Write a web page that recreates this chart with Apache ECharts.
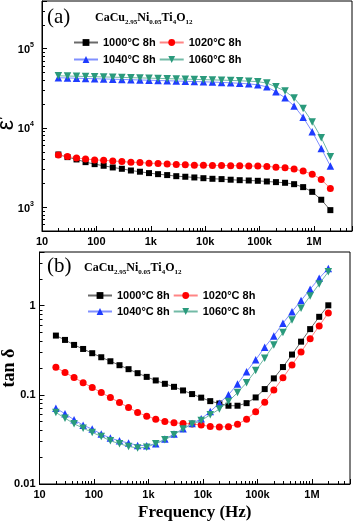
<!DOCTYPE html>
<html>
<head>
<meta charset="utf-8">
<script src="https://cdn.jsdelivr.net/npm/echarts@6.0.0/dist/echarts.min.js"></script>
<style>
html,body{margin:0;padding:0;background:#fff;}
#chart{width:354px;height:523px;}
</style>
</head>
<body>
<div id="chart"></div>
<script>
// measuring frequencies (Hz), same for both panels
var freq = [20, 29.4, 43.1, 63.2, 92.8, 136, 200, 294, 431, 632, 928, 1360, 2000, 2940, 4310, 6320, 9280,
	13600, 20000, 29400, 43100, 63200, 92800, 136000, 200000, 294000, 431000, 632000, 928000, 1360000, 2000000];
var names = ['1000°C 8h', '1020°C 8h', '1040°C 8h', '1060°C 8h'];

// (a) dielectric constant
var eps1000 = [4620, 4280, 4000, 3700, 3490, 3330, 3170, 3050, 2900, 2800, 2690, 2610, 2540, 2460, 2420, 2370,
	2320, 2280, 2260, 2220, 2190, 2170, 2150, 2110, 2070, 2030, 1950, 1790, 1560, 1240, 917];
var eps1020 = [4540, 4350, 4180, 4060, 3950, 3900, 3830, 3760, 3690, 3660, 3590, 3560, 3500, 3460, 3430, 3390,
	3390, 3360, 3360, 3340, 3340, 3300, 3300, 3270, 3200, 3140, 3020, 2850, 2610, 2240, 1720];
var eps1040 = [43000, 42700, 42400, 42100, 41800, 41500, 41200, 40900, 40600, 40300, 40000, 39700, 39400, 39100,
	38800, 38500, 38200, 37900, 37500, 37100, 36600, 36000, 35000, 33000, 28600, 24000, 18900, 13600, 8960, 5510, 3300];
var eps1060 = [45500, 45200, 44900, 44600, 44300, 44000, 43700, 43400, 43100, 42800, 42500, 42200, 41900, 41600,
	41300, 41000, 40700, 40400, 40100, 39800, 39400, 38900, 38400, 36800, 33000, 29200, 23800, 17600, 11900, 7520, 4330];

// (b) loss tangent
var tan1000 = [0.462, 0.413, 0.363, 0.327, 0.293, 0.264, 0.238, 0.215, 0.194, 0.175, 0.159, 0.145, 0.133, 0.123,
	0.112, 0.102, 0.093, 0.085, 0.080, 0.0755, 0.0755, 0.0807, 0.0935, 0.116, 0.153, 0.205, 0.283, 0.395, 0.546, 0.750, 1.01];
var tan1020 = [0.204, 0.178, 0.156, 0.137, 0.121, 0.106, 0.0933, 0.082, 0.0722, 0.0634, 0.0577, 0.0534, 0.0503,
	0.0486, 0.0478, 0.047, 0.046, 0.0442, 0.0435, 0.044, 0.0469, 0.0534, 0.0645, 0.0825, 0.113, 0.155, 0.216, 0.302, 0.427, 0.592, 0.83];
var tan1040 = [0.0709, 0.0613, 0.0525, 0.0457, 0.0413, 0.0363, 0.0327, 0.0305, 0.0288, 0.0271, 0.0269, 0.0283,
	0.0319, 0.0363, 0.0416, 0.0478, 0.0538, 0.065, 0.0807, 0.1, 0.132, 0.182, 0.247, 0.342, 0.458, 0.635, 0.857, 1.14, 1.53, 2.03, 2.62];
var tan1060 = [0.0634, 0.0548, 0.0473, 0.0423, 0.0379, 0.0342, 0.0305, 0.0283, 0.0264, 0.0253, 0.0259, 0.0283,
	0.0313, 0.0357, 0.0413, 0.047, 0.0515, 0.0597, 0.0692, 0.0842, 0.106, 0.137, 0.187, 0.258, 0.363, 0.499, 0.692, 0.935, 1.28, 1.75, 2.40];

// tick labels
var xTickVals = [10, 100, 1000, 10000, 100000, 1000000];
var xTickText = ['10', '100', '1k', '10k', '100k', '1M'];
var yTickExpA = [3, 4, 5];
var yTickValsB = [0.01, 0.1, 1];
var yTickTextB = ['0.01', '0.1', '1'];

var SANS = 'Liberation Sans';
var SERIF = 'Liberation Serif';

var markColor = ['#000000', '#ff0000', '#1f3cff', '#2a9a7c'];
var lineColor = ['#6a6a6a', '#ff8585', '#8090ff', '#72baa6'];
var symbols = ['rect', 'circle', 'triangle', 'triangle'];
var symRot = [0, 0, 0, 180];
var symSize = [6, 7, 7.5, 7.5];

function isDecade(v) {
	var l = Math.log(v) / Math.LN10;
	return Math.abs(l - Math.round(l)) < 1e-6;
}

function xLabel(v) {
	for (var i = 0; i < xTickVals.length; i++) {
		if (Math.abs(v - xTickVals[i]) < 1e-6 * xTickVals[i]) return xTickText[i];
	}
	return '';
}

function yLabelA(v) {
	if (!isDecade(v)) return '';
	var e = Math.round(Math.log(v) / Math.LN10);
	if (yTickExpA.indexOf(e) < 0) return '';
	return '{b|10}{p|' + e + '}';
}

function yLabelB(v) {
	for (var i = 0; i < yTickValsB.length; i++) {
		if (Math.abs(v - yTickValsB[i]) < 1e-6 * yTickValsB[i]) return yTickTextB[i];
	}
	return '';
}

function xAxisCfg(gi, name) {
	return {
		type: 'log', logBase: 10, gridIndex: gi, min: 10, max: 5e6,
		axisLine: {show: true, lineStyle: {color: '#000', width: 1}},
		axisTick: {show: true, inside: true, length: 5, lineStyle: {color: '#000', width: 1}},
		minorTick: {show: true, splitNumber: 9, length: 3, lineStyle: {color: '#000', width: 1}},
		splitLine: {show: false},
		minorSplitLine: {show: false},
		axisLabel: {margin: 5, color: '#000', fontFamily: SANS, fontWeight: 'bold', fontSize: 11, formatter: xLabel},
		name: name, nameLocation: 'middle', nameGap: 20, nameMoveOverlap: false,
		nameTextStyle: {fontFamily: SERIF, fontWeight: 'bold', fontSize: 17, color: '#000'}
	};
}

function yAxisCfg(gi, min, max, fmt, name, nameStyle, gap, margin) {
	return {
		type: 'log', logBase: 10, gridIndex: gi, min: min, max: max,
		axisLine: {show: true, lineStyle: {color: '#000', width: 1}},
		axisTick: {show: true, inside: true, length: 5, lineStyle: {color: '#000', width: 1}},
		minorTick: {show: true, splitNumber: 9, length: 3, lineStyle: {color: '#000', width: 1}},
		splitLine: {show: false},
		minorSplitLine: {show: false},
		axisLabel: {
			margin: margin, color: '#000', fontFamily: SANS, fontWeight: 'bold', fontSize: 11, formatter: fmt,
			rich: {
				b: {fontFamily: SANS, fontWeight: 'bold', fontSize: 11, lineHeight: 14, verticalAlign: 'bottom', color: '#000'},
				p: {fontFamily: SANS, fontWeight: 'bold', fontSize: 7, lineHeight: 8, verticalAlign: 'top', color: '#000'}
			}
		},
		name: name, nameLocation: 'middle', nameGap: gap, nameMoveOverlap: false,
		nameTextStyle: nameStyle
	};
}

function mkSeries(vals, i, ai) {
	return {
		name: names[i], type: 'line', xAxisIndex: ai, yAxisIndex: ai,
		data: freq.map(function (f, k) { return [f, vals[k]]; }),
		symbol: symbols[i], symbolRotate: symRot[i], symbolSize: symSize[i], showSymbol: true,
		itemStyle: {color: markColor[i], borderWidth: 0},
		lineStyle: {color: lineColor[i], width: 1},
		z: 2 + i, animation: false
	};
}

function legendCfg(items, left, top) {
	return {
		data: items, left: left, top: top, orient: 'horizontal', padding: 0,
		itemWidth: 24, itemHeight: 8.5, itemGap: 3, selectedMode: false,
		textStyle: {fontFamily: SANS, fontWeight: 'bold', fontSize: 11, color: '#000'}
	};
}

var formula = '{m|CaCu}{s|2.95}{m|Ni}{s|0.05}{m|Ti}{s|4}{m|O}{s|12}';
var formulaRich = {
	m: {fontFamily: SERIF, fontWeight: 'bold', fontSize: 12, lineHeight: 14, verticalAlign: 'top', color: '#000'},
	s: {fontFamily: SERIF, fontWeight: 'bold', fontSize: 7, lineHeight: 8, padding: [7, 0, 0, 0], verticalAlign: 'bottom', color: '#000'}
};

var chart = echarts.init(document.getElementById('chart'));
chart.setOption({
	animation: false,
	backgroundColor: '#fff',
	grid: [
		{left: 42, right: 2, top: 1, bottom: 292, show: true, borderColor: '#000', borderWidth: 1, containLabel: false, outerBoundsMode: 'none'},
		{left: 39.5, right: 4, top: 252, bottom: 39, show: true, borderColor: '#000', borderWidth: 1, containLabel: false, outerBoundsMode: 'none'}
	],
	title: [
		{text: '(a)', left: 47, top: 7, padding: 0, textStyle: {fontFamily: SERIF, fontWeight: 'normal', fontSize: 21, color: '#000'}},
		{text: formula, left: 95, top: 12, padding: 0, textStyle: {rich: formulaRich}},
		{text: '(b)', left: 47, top: 256, padding: 0, textStyle: {fontFamily: SERIF, fontWeight: 'normal', fontSize: 21, color: '#000'}},
		{text: formula, left: 84, top: 262, padding: 0, textStyle: {rich: formulaRich}}
	],
	legend: [
		legendCfg([names[0], names[1]], 73, 37),
		legendCfg([names[2], names[3]], 73, 54),
		legendCfg([names[0], names[1]], 87, 290),
		legendCfg([names[2], names[3]], 87, 306)
	],
	xAxis: [xAxisCfg(0, ''), xAxisCfg(1, 'Frequency (Hz)')],
	yAxis: [
		yAxisCfg(0, 500, 4e5, yLabelA, 'ε′', {fontFamily: SANS, fontWeight: 'normal', fontSize: 23, color: '#000', padding: [0, 14, 0, 0]}, 24, 8),
		yAxisCfg(1, 0.01, 4, yLabelB, 'tan δ', {fontFamily: SERIF, fontWeight: 'bold', fontSize: 18, color: '#000'}, 21, 4)
	],
	series: [
		mkSeries(eps1000, 0, 0), mkSeries(eps1020, 1, 0), mkSeries(eps1040, 2, 0), mkSeries(eps1060, 3, 0),
		mkSeries(tan1000, 0, 1), mkSeries(tan1020, 1, 1), mkSeries(tan1040, 2, 1), mkSeries(tan1060, 3, 1)
	]
});
</script>
</body>
</html>
